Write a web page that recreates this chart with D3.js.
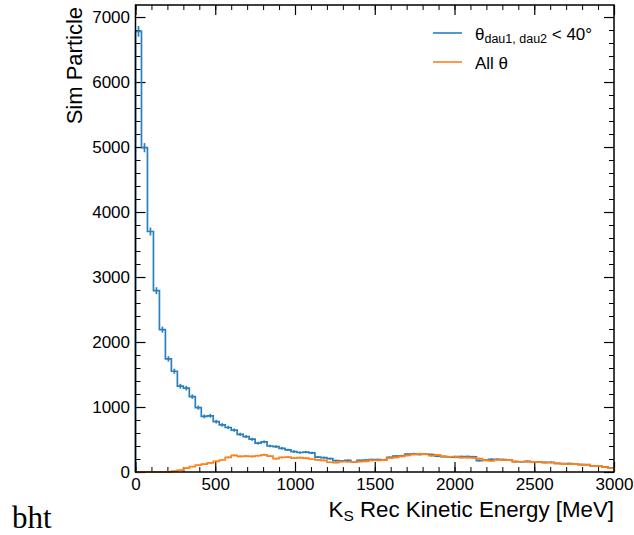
<!DOCTYPE html>
<html>
<head>
<meta charset="utf-8">
<script src="https://cdn.jsdelivr.net/npm/d3@7"></script>
<style>
  body { margin: 0; background: #fff; }
  svg { display: block; }
  .tick text { font-family: "Liberation Sans", Arial, sans-serif; font-size: 17px; fill: #000; }
</style>
</head>
<body>
<svg id="chart" width="634" height="535"></svg>
<script>
// histogram: 80 bins of 37.5 MeV from 0 to 3000
const binWidth = 37.5;
const xRange = [0, 3000];
const yMax = 7185;

const blueCounts = [6780, 4990, 3700, 2790, 2190, 1740, 1550, 1320, 1290, 1160,
    990, 855, 865, 775, 725, 685, 645, 580, 545, 505,
    445, 465, 400, 390, 365, 340, 315, 300, 305, 295,
    230, 220, 205, 175, 170, 178, 150, 178, 185, 190,
    192, 188, 225, 245, 250, 275, 280, 270, 275, 268,
    245, 238, 232, 228, 236, 238, 235, 175, 185, 195,
    196, 192, 185, 160, 158, 162, 158, 155, 148, 150,
    132, 128, 130, 126, 115, 112, 95, 90, 80, 65];

const orangeCounts = [0, 0, 0, 0, 0, 3, 15, 30, 60, 82,
    105, 120, 140, 165, 185, 225, 255, 240, 245, 240,
    250, 265, 245, 205, 225, 230, 215, 220, 212, 200,
    188, 178, 150, 145, 160, 158, 150, 160, 165, 178,
    180, 182, 215, 225, 240, 255, 270, 278, 275, 250,
    262, 240, 235, 238, 222, 220, 218, 205, 178, 172,
    186, 184, 182, 160, 158, 160, 156, 152, 145, 142,
    133, 125, 122, 124, 114, 110, 94, 90, 75, 60];

const xMajor = [0, 500, 1000, 1500, 2000, 2500, 3000];
const xMinor = d3.range(0, 3001, 100);
const yMajor = [0, 1000, 2000, 3000, 4000, 5000, 6000, 7000];
const yMinor = d3.range(0, 7185, 200);

const seriesColors = ['#2a7fbd', '#ff8118'];
const legendLabels = ['θ', 'All θ'];

const svg = d3.select('#chart');
const plotLeft = 135.5, plotRight = 614, plotTop = 5, plotBottom = 472;

const x = d3.scaleLinear().domain(xRange).range([plotLeft, plotRight]);
const y = d3.scaleLinear().domain([0, yMax]).range([plotBottom, plotTop]);

// axes: ticks inside on all four sides
function addAxis(axisFn, transform, major, minor, labels) {
    const gMin = svg.append('g').attr('transform', transform)
        .call(axisFn.tickValues(minor).tickSize(-5).tickFormat(''));
    gMin.select('.domain').remove();
    gMin.selectAll('line').attr('stroke', '#000').attr('stroke-width', 1);

    const axis2 = axisFn.tickValues(major).tickSize(-10).tickPadding(7)
        .tickFormat(labels ? d3.format('d') : '');
    const gMaj = svg.append('g').attr('transform', transform).call(axis2);
    gMaj.select('.domain').remove();
    gMaj.selectAll('line').attr('stroke', '#000').attr('stroke-width', 1.2);
    return gMaj;
}

const gx = addAxis(d3.axisBottom(x), `translate(0,${plotBottom})`, xMajor, xMinor, true);
gx.selectAll('text').attr('dy', null).attr('y', 18);
addAxis(d3.axisTop(x), `translate(0,${plotTop})`, xMajor, xMinor, false);
const gy = addAxis(d3.axisLeft(y), `translate(${plotLeft},0)`, yMajor, yMinor, true);
gy.selectAll('text').attr('x', -5.5);
addAxis(d3.axisRight(y), `translate(${plotRight},0)`, yMajor, yMinor, false);

// histograms
function stepPoints(counts) {
    let pts = [[x(0), y(0)]];
    counts.forEach((c, i) => {
        pts.push([x(i * binWidth), y(c)]);
        pts.push([x((i + 1) * binWidth), y(c)]);
    });
    pts.push([x(xRange[1]), y(0)]);
    return pts;
}

[blueCounts, orangeCounts].forEach((counts, k) => {
    const g = svg.append('g');
    g.append('path')
        .attr('d', d3.line()(stepPoints(counts)))
        .attr('fill', 'none')
        .attr('stroke', seriesColors[k])
        .attr('stroke-width', 1.7);
    // sqrt(N) error bars at bin centres
    g.selectAll('line')
        .data(counts.map((c, i) => [i, c]).filter(d => d[1] > 0))
        .join('line')
        .attr('x1', d => x((d[0] + 0.5) * binWidth))
        .attr('x2', d => x((d[0] + 0.5) * binWidth))
        .attr('y1', d => y(d[1] - Math.sqrt(d[1])))
        .attr('y2', d => y(d[1] + Math.sqrt(d[1])))
        .attr('stroke', seriesColors[k])
        .attr('stroke-width', 1.7);
});

// frame
svg.append('rect')
    .attr('x', plotLeft).attr('y', plotTop)
    .attr('width', plotRight - plotLeft).attr('height', plotBottom - plotTop)
    .attr('fill', 'none').attr('stroke', '#000').attr('stroke-width', 1.5);

// axis labels
const xl = svg.append('text')
    .attr('x', plotRight).attr('y', 517)
    .attr('text-anchor', 'end')
    .style('font-family', '"Liberation Sans", Arial, sans-serif')
    .style('font-size', '22.3px');
xl.append('tspan').text('K');
xl.append('tspan').attr('dy', 4).style('font-size', '15.5px').text('S');
xl.append('tspan').attr('dy', -4).text(' Rec Kinetic Energy [MeV]');

svg.append('text')
    .attr('transform', `translate(81.5,${plotTop + 2}) rotate(-90)`)
    .attr('text-anchor', 'end')
    .style('font-family', '"Liberation Sans", Arial, sans-serif')
    .style('font-size', '22px')
    .text('Sim Particle');

// legend
const legend = svg.append('g')
    .style('font-family', '"Liberation Sans", Arial, sans-serif')
    .style('font-size', '17px');
[33, 62].forEach((ly, k) => {
    legend.append('line')
        .attr('x1', 433).attr('x2', 462).attr('y1', ly).attr('y2', ly)
        .attr('stroke', seriesColors[k]).attr('stroke-width', 1.6);
});
const l1 = legend.append('text').attr('x', 475).attr('y', 39.5);
l1.append('tspan').text(legendLabels[0]);
l1.append('tspan').attr('dy', 3.5).style('font-size', '12.5px').text('dau1, dau2');
l1.append('tspan').attr('dy', -3.5).text(' < 40°');
legend.append('text').attr('x', 475).attr('y', 68.5).text(legendLabels[1]);

// stray text in the bottom-left corner
svg.append('text')
    .attr('x', 12).attr('y', 528)
    .style('font-family', '"Liberation Serif", "Times New Roman", serif')
    .style('font-size', '31px')
    .text('bht');
</script>
</body>
</html>
